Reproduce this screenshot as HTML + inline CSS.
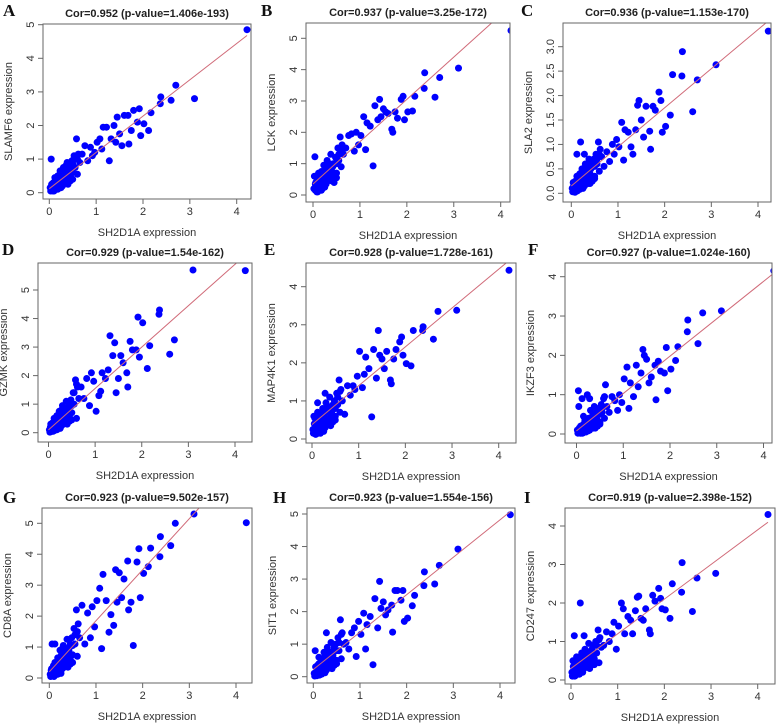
<!DOCTYPE html>
<html><head><meta charset="utf-8"><style>
html,body{margin:0;padding:0;background:#fff;}
svg{display:block;font-family:"Liberation Sans",Arial,sans-serif;}
</style></head><body>
<svg id="fig" width="777" height="725" viewBox="0 0 777 725" xmlns="http://www.w3.org/2000/svg"></svg>
<script>
// Shared x values (SH2D1A expression)
const xs = [4.22,3.1,2.7,2.6,2.38,2.37,2.17,2.12,2.02,1.95,1.92,1.88,1.8,1.75,1.7,1.68,1.6,1.55,1.5,1.45,1.42,1.38,1.32,1.28,1.22,1.15,1.12,1.08,1.02,0.97,0.92,0.88,0.82,0.76,0.7,
0.65,0.62,0.6,0.58,0.55,0.53,0.5,0.48,0.45,0.43,0.4,0.38,0.36,0.34,0.32,0.3,0.28,0.26,0.25,0.23,0.21,0.2,0.18,0.16,0.15,0.13,0.12,0.1,0.09,0.08,0.07,0.06,0.05,0.04,0.03,
0.6,0.5,0.45,0.4,0.35,0.3,0.28,0.25,0.2,0.18,0.15,0.12,0.1,0.05,0.02,
0.55,0.5,0.45,0.42,0.38,0.35,0.32,0.28,0.25,0.22,0.18,0.14];
const yA = [4.85,2.8,3.2,2.75,2.85,2.65,2.38,1.85,2.05,1.7,2.5,2.1,2.45,1.85,1.45,2.3,2.3,1.4,1.75,2.25,1.5,2.0,1.6,0.95,1.95,1.95,1.3,1.6,1.5,1.2,1.1,1.35,0.95,1.4,1.15,
0.9,1.15,0.55,1.6,0.75,1.1,0.6,0.95,0.35,0.8,0.55,0.9,0.3,0.6,0.45,0.75,0.2,0.5,0.3,0.65,0.4,0.15,0.5,0.25,0.35,0.1,0.45,0.2,0.3,0.05,0.15,0.25,0.1,1.0,0.05,
1.0,0.4,0.7,0.25,0.5,0.35,0.6,0.15,0.3,0.1,0.2,0.3,0.05,0.25,0.15,
1.0,0.85,0.5,0.65,0.45,0.8,0.3,0.45,0.55,0.35,0.25,0.2];
const yB = [5.25,4.05,3.75,3.12,3.9,3.4,3.15,2.68,2.65,2.4,3.15,3.05,2.45,2.65,2.0,2.1,2.6,2.65,2.75,2.5,3.05,2.4,2.85,0.93,2.2,2.3,1.45,2.5,1.9,1.6,2.0,1.4,1.95,1.9,1.5,
1.3,1.6,0.9,1.85,1.1,1.5,0.7,1.2,0.4,1.0,0.75,1.3,0.5,0.9,0.6,1.1,0.35,0.8,0.5,0.95,0.6,0.2,0.75,0.4,0.55,0.15,0.7,0.3,0.5,0.1,0.25,0.4,0.15,1.22,0.6,
1.4,0.55,1.0,0.45,0.75,0.5,0.9,0.25,0.45,0.15,0.3,0.45,0.1,0.35,0.2,
1.3,1.0,0.65,0.9,0.55,1.0,0.45,0.6,0.7,0.5,0.35,0.3];
const yC = [3.32,2.63,2.32,1.67,2.9,2.4,2.43,1.6,1.37,1.25,1.9,2.07,1.7,1.78,0.9,1.27,1.78,1.15,1.5,1.9,1.8,1.3,0.8,0.95,1.25,1.3,0.68,1.45,0.95,1.1,0.8,1.0,0.65,0.85,0.55,
0.75,0.9,0.45,1.05,0.6,0.8,0.35,0.7,0.25,0.6,0.4,0.7,0.2,0.5,0.3,0.6,0.15,0.45,0.25,0.5,0.3,1.05,0.4,0.15,0.3,0.05,0.35,0.1,0.25,0.02,0.12,0.2,0.08,0.22,0.03,
0.8,0.3,0.55,0.2,0.4,0.3,0.8,0.1,0.2,0.08,0.15,0.8,0.05,0.15,0.1,
0.7,0.55,0.35,0.5,0.3,0.5,0.2,0.3,0.35,0.25,0.18,0.15];
const yD = [5.68,5.7,3.25,2.75,4.3,4.15,3.05,2.25,3.85,2.65,4.05,2.9,2.9,3.2,1.6,2.1,2.45,2.7,1.9,1.4,3.15,2.7,3.4,2.2,1.9,2.1,1.45,1.3,0.75,1.8,2.1,0.95,1.9,1.2,1.6,
1.2,1.6,0.5,1.85,1.0,1.4,0.7,1.15,0.4,0.9,0.6,1.1,0.35,0.75,0.5,0.95,0.25,0.7,0.4,0.75,0.5,0.15,0.6,0.3,0.45,0.08,0.5,0.2,0.35,0.05,0.15,0.3,0.1,0.2,0.02,
1.7,0.45,1.0,0.3,0.6,0.4,0.8,0.15,0.35,0.1,0.2,0.3,0.05,0.3,0.1,
1.4,0.95,0.55,0.8,0.5,0.85,0.3,0.5,0.6,0.4,0.25,0.2];
const yE = [4.43,3.38,3.35,2.62,2.95,2.85,2.85,1.92,1.98,2.2,2.68,2.55,2.35,2.1,1.45,1.55,2.3,1.85,2.1,2.2,2.85,1.6,2.35,0.58,1.85,2.15,1.7,1.35,2.3,1.65,1.3,1.4,1.15,1.4,0.65,
1.0,1.3,0.7,1.55,0.9,1.2,0.6,1.0,0.45,0.85,0.6,1.1,0.4,0.75,0.5,0.95,0.3,0.7,0.45,0.8,0.5,0.2,0.65,0.3,0.55,0.15,0.7,0.25,0.45,0.12,0.3,0.55,0.2,0.6,0.15,
1.25,0.5,0.9,0.35,0.7,0.4,1.2,0.2,0.45,0.15,0.3,0.95,0.15,0.4,0.25,
1.1,0.8,0.6,0.7,0.55,0.85,0.4,0.5,0.6,0.45,0.35,0.3];
const yF = [4.15,3.13,3.08,2.3,2.9,2.6,2.22,1.87,1.65,1.1,2.2,1.55,1.6,1.85,0.87,1.75,1.45,1.3,1.9,2.0,2.15,1.55,1.2,1.75,0.95,1.3,0.65,1.7,1.4,0.8,1.0,0.6,0.85,0.95,0.55,
0.7,1.25,0.4,0.9,0.55,0.75,0.3,0.65,0.2,0.55,0.35,0.7,0.15,0.45,0.25,0.6,0.1,0.4,0.2,1.0,0.3,0.05,0.35,0.12,0.25,0.02,0.9,0.1,0.2,0.02,0.08,0.15,0.05,1.1,0.02,
0.95,0.25,0.5,0.15,0.35,0.2,0.9,0.08,0.15,0.05,0.45,0.2,0.02,0.7,0.1,
0.65,0.5,0.35,0.45,0.3,0.5,0.2,0.3,0.35,0.2,0.15,0.12];
const yG = [5.02,5.3,5.0,4.28,4.57,3.92,4.2,3.6,3.38,2.6,4.18,3.75,1.05,2.45,2.2,3.78,3.2,2.6,3.4,2.45,3.5,1.7,2.05,1.48,2.5,3.35,0.95,2.9,2.5,1.65,2.3,1.3,2.1,1.1,2.35,
1.3,1.75,0.7,2.2,1.1,1.6,0.75,1.3,0.45,1.0,0.7,1.25,0.4,0.85,0.55,1.05,0.3,0.75,0.45,0.9,0.55,0.2,0.65,0.35,0.5,0.1,1.1,0.25,0.4,0.08,0.2,1.1,0.15,0.25,0.05,
1.5,0.5,1.1,0.35,0.7,0.45,0.95,0.15,0.4,0.12,0.3,0.5,0.05,0.3,0.12,
1.4,1.05,0.6,0.9,0.55,0.9,0.35,0.55,0.65,0.45,0.3,0.25];
const yH = [4.98,3.92,3.42,2.85,3.22,2.8,2.5,2.18,1.8,1.7,2.65,2.35,2.65,2.65,1.37,2.2,2.05,1.9,2.3,2.1,2.93,1.5,2.4,0.37,1.85,1.6,0.85,1.95,1.3,1.7,0.62,1.5,1.35,0.85,1.05,
1.0,1.35,0.55,1.75,0.8,1.2,0.5,1.0,0.35,0.8,0.55,1.05,0.3,0.7,0.45,0.9,0.2,0.65,0.35,0.75,0.45,0.15,0.55,0.25,0.4,0.05,0.6,0.2,0.35,0.03,0.15,0.3,0.1,0.8,0.02,
1.3,0.4,0.9,0.25,0.6,0.35,1.35,0.12,0.35,0.08,0.2,0.4,0.05,0.3,0.1,
1.05,0.8,0.5,0.65,0.45,0.75,0.3,0.45,0.5,0.35,0.25,0.2];
const yI = [4.3,2.77,2.65,1.78,3.05,2.28,2.5,1.6,1.82,1.85,2.12,2.38,2.05,2.2,1.2,1.3,1.85,1.55,1.6,2.18,2.15,1.8,1.2,1.55,1.65,1.2,1.85,2.0,1.4,0.8,1.5,1.2,1.0,1.25,0.9,
0.85,1.1,0.45,1.3,0.7,1.0,0.55,0.9,0.4,0.75,0.5,0.95,0.35,0.65,0.45,0.8,0.3,0.6,0.4,0.7,0.45,2.0,0.55,0.3,0.45,0.15,0.6,0.25,0.4,0.1,1.15,0.35,0.15,0.5,0.1,
1.05,0.4,0.8,0.3,0.55,0.35,1.15,0.2,0.4,0.15,0.3,0.5,0.12,0.35,0.2,
0.9,0.7,0.5,0.6,0.45,0.7,0.35,0.45,0.5,0.4,0.3,0.25];
// regression intercepts and slopes
const intercepts = [0.12,0.35,0.15,0.1,0.38,0.08,0.2,0.22,0.3];
const slopes = [1.08,1.35,0.8,1.45,1.02,0.95,1.65,1.15,0.9];
const genes = ["SLAMF6","LCK","SLA2","GZMK","MAP4K1","IKZF3","CD8A","SIT1","CD247"];
const titles = ["Cor=0.952 (p-value=1.406e-193)","Cor=0.937 (p-value=3.25e-172)","Cor=0.936 (p-value=1.153e-170)","Cor=0.929 (p-value=1.54e-162)","Cor=0.928 (p-value=1.728e-161)","Cor=0.927 (p-value=1.024e-160)","Cor=0.923 (p-value=9.502e-157)","Cor=0.923 (p-value=1.554e-156)","Cor=0.919 (p-value=2.398e-152)"];
const letters = ["A","B","C","D","E","F","G","H","I"];
const xTicks = [0,1,2,3,4];
const yTicksA = [0,1,2,3,4,5];
const yTicksC = [0,0.5,1,1.5,2,2.5,3];
const yTicksE = [0,1,2,3,4];
const yTickLabC = ["0.0","0.5","1.0","1.5","2.0","2.5","3.0"];
const ySeries = [yA,yB,yC,yD,yE,yF,yG,yH,yI];
const yTickSets = [yTicksA,yTicksA,yTicksC,yTicksA,yTicksE,yTicksE,yTicksA,yTicksA,yTicksE];

// layout: box l,r,t,b ; x0px,x4px ; y0px, yRefVal, yRefPx ; letter x,y
const layout = [
 [43,251,24,199, 49.3,236.7, 192.7,5,24.7, 3,16],
 [306,510,23,202, 313,500.7, 195,5,38.3, 261,16],
 [563,771,23,202, 571.3,758, 193.3,3,46.7, 521,16],
 [38,252,263,442, 48.5,235, 432.7,5,290, 2,255],
 [306,516,263,443, 312,498.7, 439,4,286.7, 264,255],
 [565,772,263,443, 576.5,763.5, 434,4,276.7, 528,255],
 [42,252,508,683, 49.3,236, 678,5,523.3, 3,503],
 [307,515,508,683, 313.3,500, 676.7,5,514, 273,503],
 [565,775,508,684, 571,757.7, 680,4,526, 524,503]
];
const NS = "http://www.w3.org/2000/svg";
const svg = document.getElementById('fig');
function mk(tag, attrs, parent){const e=document.createElementNS(NS,tag);for(const k in attrs)e.setAttribute(k,attrs[k]);(parent||svg).appendChild(e);return e;}

for(let p=0;p<9;p++){
  const [l,r,t,b,x0,x4,y0,yv,yp,lx,ly]=layout[p];
  const sx=v=>x0+(x4-x0)*v/4;
  const sy=v=>y0+(yp-y0)*v/yv;
  const g=mk('g',{});
  
  
  const lt=mk('text',{x:lx,y:ly,'font-family':'"Liberation Serif",serif','font-weight':'bold','font-size':17,fill:'#111'},g);
  lt.textContent=letters[p];
  
  
  const tt=mk('text',{x:(l+r)/2,y:t-7,'text-anchor':'middle','font-weight':'bold','font-size':11,fill:'#222'},g);
  tt.textContent=titles[p];
  
  
  const cp=mk('clipPath',{id:'c'+p},g);
  mk('rect',{x:l,y:t,width:r-l,height:b-t},cp);
  const pts=mk('g',{'clip-path':'url(#c'+p+')'},g);
  
  
  const ys=ySeries[p];
  for(let i=0;i<xs.length;i++){
    const c=mk('circle',{cx:sx(xs[i]).toFixed(1),cy:sy(ys[i]).toFixed(1),r:3.5,fill:'#0000ff'},pts);
    
    
  }
  const ln=mk('line',{x1:sx(0),y1:sy(intercepts[p]),x2:sx(4.22),y2:sy(intercepts[p]+slopes[p]*4.22),stroke:'#d06a78','stroke-width':1,'clip-path':'url(#c'+p+')'},g);
  
  
  const bx=mk('rect',{x:l,y:t,width:r-l,height:b-t,fill:'none',stroke:'#666','stroke-width':1},g);
  
  
  const xa=mk('g',{},g);
  
  
  mk('line',{x1:sx(0),y1:b,x2:sx(4),y2:b,stroke:'#666'},xa);
  xTicks.forEach(v=>{
    mk('line',{x1:sx(v),y1:b,x2:sx(v),y2:b+5,stroke:'#666'},xa);
    const tx=mk('text',{x:sx(v),y:b+16,'text-anchor':'middle','font-size':11,fill:'#333'},xa);
    tx.textContent=v;
    
    
  });
  const xt=mk('text',{x:(l+r)/2,y:b+37,'text-anchor':'middle','font-size':11,fill:'#333'},g);
  xt.textContent='SH2D1A expression';
  
  
  const ya=mk('g',{},g);
  
  
  const tk=yTickSets[p];
  mk('line',{x1:l,y1:sy(tk[0]),x2:l,y2:sy(tk[tk.length-1]),stroke:'#666'},ya);
  tk.forEach((v,i)=>{
    mk('line',{x1:l-5,y1:sy(v),x2:l,y2:sy(v),stroke:'#666'},ya);
    const ty=mk('text',{x:l-9,y:sy(v),'text-anchor':'middle','font-size':11,fill:'#333',transform:'rotate(-90 '+(l-9)+' '+sy(v)+')'},ya);
    ty.textContent=(p===2?yTickLabC[i]:String(v));
    
    
  });
  const cy=(t+b)/2;
  const yt=mk('text',{x:l-31,y:cy,'text-anchor':'middle','font-size':11,fill:'#333',transform:'rotate(-90 '+(l-31)+' '+cy+')'},g);
  yt.textContent=genes[p]+' expression';
  
  
}
</script>
</body></html>
